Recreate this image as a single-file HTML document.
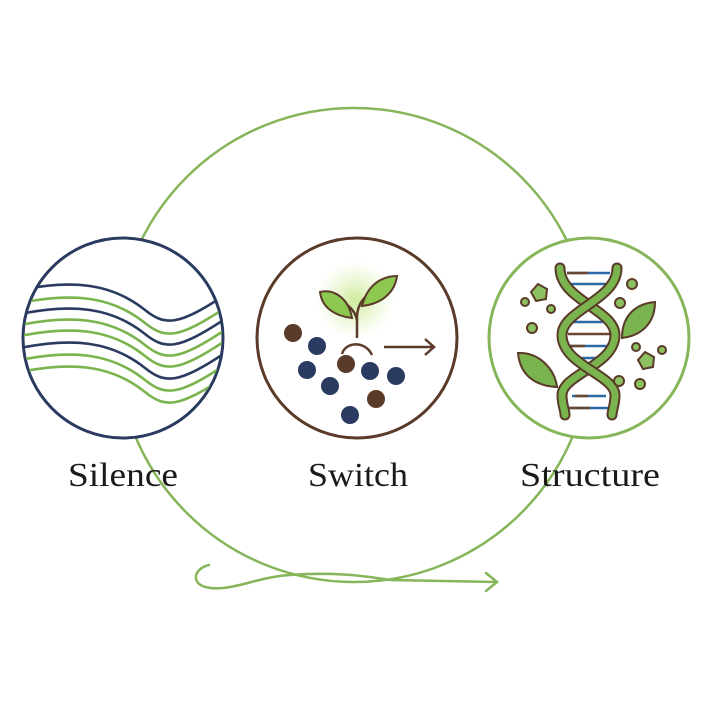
<!DOCTYPE html>
<html><head><meta charset="utf-8"><style>html,body{margin:0;padding:0;background:#fff}</style></head>
<body>
<svg width="721" height="721" viewBox="0 0 721 721" xmlns="http://www.w3.org/2000/svg">
<defs>
<clipPath id="cl"><circle cx="123" cy="338" r="99"/></clipPath>
<radialGradient id="glow"><stop offset="0" stop-color="#b8e070" stop-opacity="0.7"/><stop offset="1" stop-color="#d8f0a8" stop-opacity="0"/></radialGradient>
</defs>
<rect width="721" height="721" fill="#fff"/>
<circle cx="354" cy="345" r="237" fill="none" stroke="#86b55a" stroke-width="2.5"/>
<!-- left -->
<circle cx="123" cy="338" r="100" fill="#fff" stroke="#2b3a60" stroke-width="3"/>
<g clip-path="url(#cl)" fill="none" stroke-width="2.6">
<path id="w" d="M20 290 C70 280 110 282 145 310 C165 326 178 326 225 295" stroke="#2b3a60"/>
<path d="M20 290 C70 280 110 282 145 310 C165 326 178 326 225 295" stroke="#7ab44e" transform="translate(0,13)"/>
<path d="M20 290 C70 280 110 282 145 310 C165 326 178 326 225 295" stroke="#2b3a60" transform="translate(0,24)"/>
<path d="M20 290 C70 280 110 282 145 310 C165 326 178 326 225 295" stroke="#7ab44e" transform="translate(0,35)"/>
<path d="M20 290 C70 280 110 282 145 310 C165 326 178 326 225 295" stroke="#7ab44e" transform="translate(0,46)"/>
<path d="M20 290 C70 280 110 282 145 310 C165 326 178 326 225 295" stroke="#2b3a60" transform="translate(0,58)"/>
<path d="M20 290 C70 280 110 282 145 310 C165 326 178 326 225 295" stroke="#7ab44e" transform="translate(0,70)"/>
<path d="M20 290 C70 280 110 282 145 310 C165 326 178 326 225 295" stroke="#7ab44e" transform="translate(0,82)"/>
</g>
<!-- middle -->
<circle cx="357" cy="338" r="100" fill="#fff" stroke="#5a3a28" stroke-width="3"/>
<circle cx="355" cy="300" r="40" fill="url(#glow)"/>
<path d="M357 338 L357 318 C357 306 362 298 372 292 M357 320 C355 310 348 305 340 300" stroke="#5a3a28" stroke-width="2.5" fill="none"/>
<path d="M320 292 C332 289 348 296 352 318 C335 316 322 308 320 292Z" fill="#8dc850" stroke="#5a3a28" stroke-width="2"/>
<path d="M397 276 C385 276 368 282 362 306 C382 304 395 292 397 276Z" fill="#8dc850" stroke="#5a3a28" stroke-width="2"/>
<path d="M342 354 C345 342 365 340 372 355" stroke="#5a3a28" stroke-width="2.5" fill="none"/>
<path d="M384 347 L434 347 M425 339 L434 347 L425 355" stroke="#5a3a28" stroke-width="2.5" fill="none"/>
<g fill="#5a3a28"><circle cx="293" cy="333" r="9"/><circle cx="346" cy="364" r="9"/><circle cx="376" cy="399" r="9"/></g>
<g fill="#2b3a60"><circle cx="317" cy="346" r="9"/><circle cx="307" cy="370" r="9"/><circle cx="330" cy="386" r="9"/><circle cx="370" cy="371" r="9"/><circle cx="396" cy="376" r="9"/><circle cx="350" cy="415" r="9"/></g>
<!-- right -->
<circle cx="589" cy="338" r="100" fill="#fff" stroke="#86b55a" stroke-width="3"/>
<g stroke-width="2.5">
<g stroke="#2a6aa8"><line x1="567" y1="273" x2="610" y2="273"/><line x1="570" y1="284" x2="607" y2="284"/><line x1="572" y1="322" x2="605" y2="322"/><line x1="568" y1="346" x2="610" y2="346"/><line x1="570" y1="358" x2="608" y2="358"/><line x1="572" y1="396" x2="606" y2="396"/><line x1="568" y1="408" x2="610" y2="408"/></g>
<g stroke="#6b4630"><line x1="567" y1="273" x2="588" y2="273"/><line x1="568" y1="334" x2="610" y2="334"/><line x1="568" y1="346" x2="585" y2="346"/><line x1="568" y1="408" x2="590" y2="408"/><line x1="575" y1="396" x2="588" y2="396"/></g>
</g>
<g fill="none" stroke-linecap="round">
<path d="M560 268 C560 300 615 310 615 335 C615 365 562 375 562 395 C562 405 565 410 565 415" stroke="#5a3a28" stroke-width="11"/>
<path d="M560 268 C560 300 615 310 615 335 C615 365 562 375 562 395 C562 405 565 410 565 415" stroke="#7ab44e" stroke-width="7"/>
<path d="M617 268 C617 300 562 310 562 335 C562 365 615 375 615 395 C615 405 612 410 612 415" stroke="#5a3a28" stroke-width="11"/>
<path d="M617 268 C617 300 562 310 562 335 C562 365 615 375 615 395 C615 405 612 410 612 415" stroke="#7ab44e" stroke-width="7"/>
</g>
<path d="M518 353 C540 352 555 370 557 387 C535 386 520 375 518 353Z" fill="#7ab44e" stroke="#5a3a28" stroke-width="2"/>
<path d="M655 302 C640 303 622 312 622 338 C645 335 655 320 655 302Z" fill="#7ab44e" stroke="#5a3a28" stroke-width="2"/>
<g fill="#8dc060" stroke="#5a3a28" stroke-width="2">
<polygon points="538,284 547,289 546,299 536,301 531,292"/>
<circle cx="525" cy="302" r="4"/><circle cx="551" cy="309" r="4"/>
<circle cx="532" cy="328" r="5"/><circle cx="632" cy="284" r="5"/><circle cx="620" cy="303" r="5"/>
<polygon points="645,352 654,357 653,367 643,369 638,360"/>
<circle cx="636" cy="347" r="4"/><circle cx="662" cy="350" r="4"/>
<circle cx="619" cy="381" r="5"/><circle cx="640" cy="384" r="5"/>
</g>
<!-- labels -->
<g font-family="Liberation Serif, serif" font-size="34" fill="#1a1a1a">
<text x="68" y="486" textLength="110" lengthAdjust="spacingAndGlyphs">Silence</text>
<text x="308" y="486" textLength="100" lengthAdjust="spacingAndGlyphs">Switch</text>
<text x="520" y="486" textLength="140" lengthAdjust="spacingAndGlyphs">Structure</text>
</g>
<!-- bottom arrow -->
<path d="M209 565 C195 568 190 582 205 587 C230 593 255 577 290 575 C330 572 360 575 390 580 L497 582 M486 573 L497 582 L486 591" fill="none" stroke="#86b55a" stroke-width="2.5" stroke-linecap="round"/>
</svg>
</body></html>
